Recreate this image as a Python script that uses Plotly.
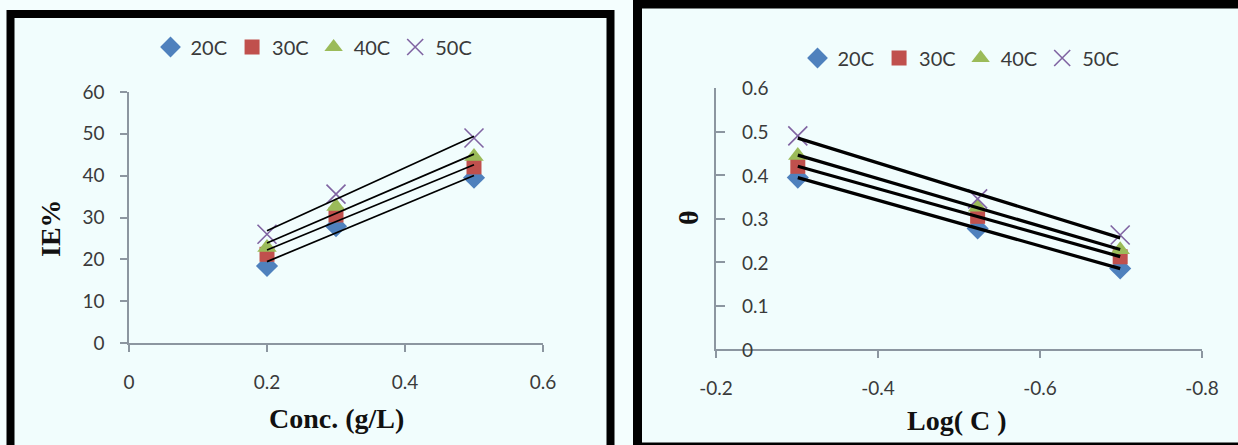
import numpy as np
import plotly.graph_objects as go

# Inhibition efficiency vs. concentration
conc = [0.2, 0.3, 0.5]
ie_20 = [18.4, 27.9, 39.5]
ie_30 = [21.2, 30.6, 42.1]
ie_40 = [22.8, 32.6, 44.6]
ie_50 = [26.0, 35.6, 49.0]

# Surface coverage vs. log concentration
log_c = [-0.301, -0.523, -0.699]
theta_20 = [0.394, 0.277, 0.185]
theta_30 = [0.420, 0.305, 0.212]
theta_40 = [0.445, 0.326, 0.228]
theta_50 = [0.490, 0.345, 0.262]

# tick labels of the log-concentration panel
logc_ticks = [-0.2, -0.4, -0.6, -0.8]
logc_tick_text = ["-0.2", "-0.4", "-0.6", "-0.8"]
theta_ticks = [0, 0.1, 0.2, 0.3, 0.4, 0.5, 0.6]
theta_tick_text = ["0", "0.1", "0.2", "0.3", "0.4", "0.5", "0.6"]

series_names = ["20C", "30C", "40C", "50C"]
colors = ["#4F81BD", "#C0504D", "#9BBB59", "#8064A2"]
symbols = ["diamond", "square", "triangle-up", "x-thin"]
sizes = [17, 15, 17, 19]

W, H = 1238, 445
BG = "#F1FDFD"
SANS = "Lato, Open Sans, sans-serif"
TICK_FONT = dict(family=SANS, size=19, color="#3A3A3A")
TITLE_FONT = dict(family="Liberation Serif, Times New Roman, serif", size=28, color="#111111")
AXIS_COLOR = "#8C96A0"


def px_x(p):
    return p / W


def px_y(p):
    return 1 - p / H


fig = go.Figure()


def add_panel(xs, ys_list, xaxis, yaxis, legend, line_w):
    for name, ys, c, s, sz in zip(series_names, ys_list, colors, symbols, sizes):
        if s == "x-thin":
            marker = dict(symbol=s, size=sz, line=dict(color=c, width=1.6), color=c)
        else:
            marker = dict(symbol=s, size=sz, color=c, line=dict(width=0))
        fig.add_trace(go.Scatter(
            x=xs, y=ys, mode="markers", name=name, marker=marker,
            xaxis=xaxis, yaxis=yaxis, legend=legend, showlegend=True,
        ))
    # linear trend lines over each series
    for ys in ys_list:
        slope, icpt = np.polyfit(xs, ys, 1)
        x_end = [min(xs), max(xs)]
        y_end = [slope * v + icpt for v in x_end]
        fig.add_trace(go.Scatter(
            x=x_end, y=y_end, mode="lines", line=dict(color="#000000", width=line_w),
            xaxis=xaxis, yaxis=yaxis, showlegend=False, hoverinfo="skip",
        ))


add_panel(conc, [ie_20, ie_30, ie_40, ie_50], "x", "y", "legend", 1.7)
add_panel(log_c, [theta_20, theta_30, theta_40, theta_50], "x2", "y2", "legend2", 3.2)

axis_common = dict(
    showgrid=False, zeroline=False, showline=True, linecolor=AXIS_COLOR, linewidth=1.5,
    ticks="outside", tickcolor=AXIS_COLOR, tickwidth=1.5, ticklen=7,
    tickfont=TICK_FONT, fixedrange=True, automargin=False,
)

legend_common = dict(orientation="h", xanchor="center", yanchor="middle",
                     bgcolor="rgba(0,0,0,0)", font=dict(family=SANS, size=20, color="#3A3A3A"),
                     itemwidth=30, tracegroupgap=0)

fig.update_layout(
    width=W, height=H, autosize=False,
    margin=dict(l=0, r=0, t=0, b=0, pad=0, autoexpand=False),
    paper_bgcolor="#F4FEFE",
    plot_bgcolor="rgba(0,0,0,0)",
    xaxis=dict(domain=[px_x(129), px_x(543)], range=[0, 0.6], dtick=0.2,
               anchor="y", ticklabelstandoff=14, **axis_common),
    yaxis=dict(domain=[px_y(343), px_y(92)], range=[0, 60], dtick=10,
               anchor="x", ticklabelstandoff=12, **axis_common),
    xaxis2=dict(domain=[px_x(716), px_x(1202)], range=[-0.2, -0.8],
                tickvals=logc_ticks, ticktext=logc_tick_text,
                anchor="y2", ticklabelstandoff=14, **axis_common),
    yaxis2=dict(domain=[px_y(349), px_y(88)], range=[0, 0.6], tickvals=theta_ticks,
                anchor="x2", showticklabels=False,
                **{**axis_common, "ticks": "inside", "ticklen": 9}),
    legend=dict(x=px_x(314), y=px_y(47), **legend_common),
    legend2=dict(x=px_x(961), y=px_y(58), **legend_common),
    showlegend=True,
)

# y tick labels of the theta panel sit to the right of its axis line
for v, t in zip(theta_ticks, theta_tick_text):
    fig.add_annotation(text=t, xref="x2", yref="y2", x=-0.2, y=v, xshift=24,
                       xanchor="left", yanchor="middle", showarrow=False, font=TICK_FONT)

# framed panels behind each chart
fig.add_shape(type="rect", xref="paper", yref="paper", layer="below",
              x0=px_x(10.5), x1=px_x(610.5), y0=px_y(470), y1=px_y(14),
              line=dict(color="#000000", width=8), fillcolor=BG)
fig.add_shape(type="rect", xref="paper", yref="paper", layer="below",
              x0=px_x(637.5), x1=px_x(1260), y0=px_y(447), y1=px_y(4),
              line=dict(color="#000000", width=9), fillcolor=BG)

# axis titles
fig.add_annotation(text="<b>Conc. (g/L)</b>", xref="paper", yref="paper",
                   x=px_x(336), y=px_y(418), showarrow=False, font=TITLE_FONT,
                   xanchor="center", yanchor="middle")
fig.add_annotation(text="<b>IE%</b>", xref="paper", yref="paper", textangle=-90,
                   x=px_x(51), y=px_y(228), showarrow=False, font=TITLE_FONT,
                   xanchor="center", yanchor="middle")
fig.add_annotation(text="<b>Log( C )</b>", xref="paper", yref="paper",
                   x=px_x(957), y=px_y(420), showarrow=False, font=TITLE_FONT,
                   xanchor="center", yanchor="middle")
fig.add_annotation(text="<b>θ</b>", xref="paper", yref="paper", textangle=-90,
                   x=px_x(688), y=px_y(218), showarrow=False, font=TITLE_FONT,
                   xanchor="center", yanchor="middle")

fig.write_html("out.html")
